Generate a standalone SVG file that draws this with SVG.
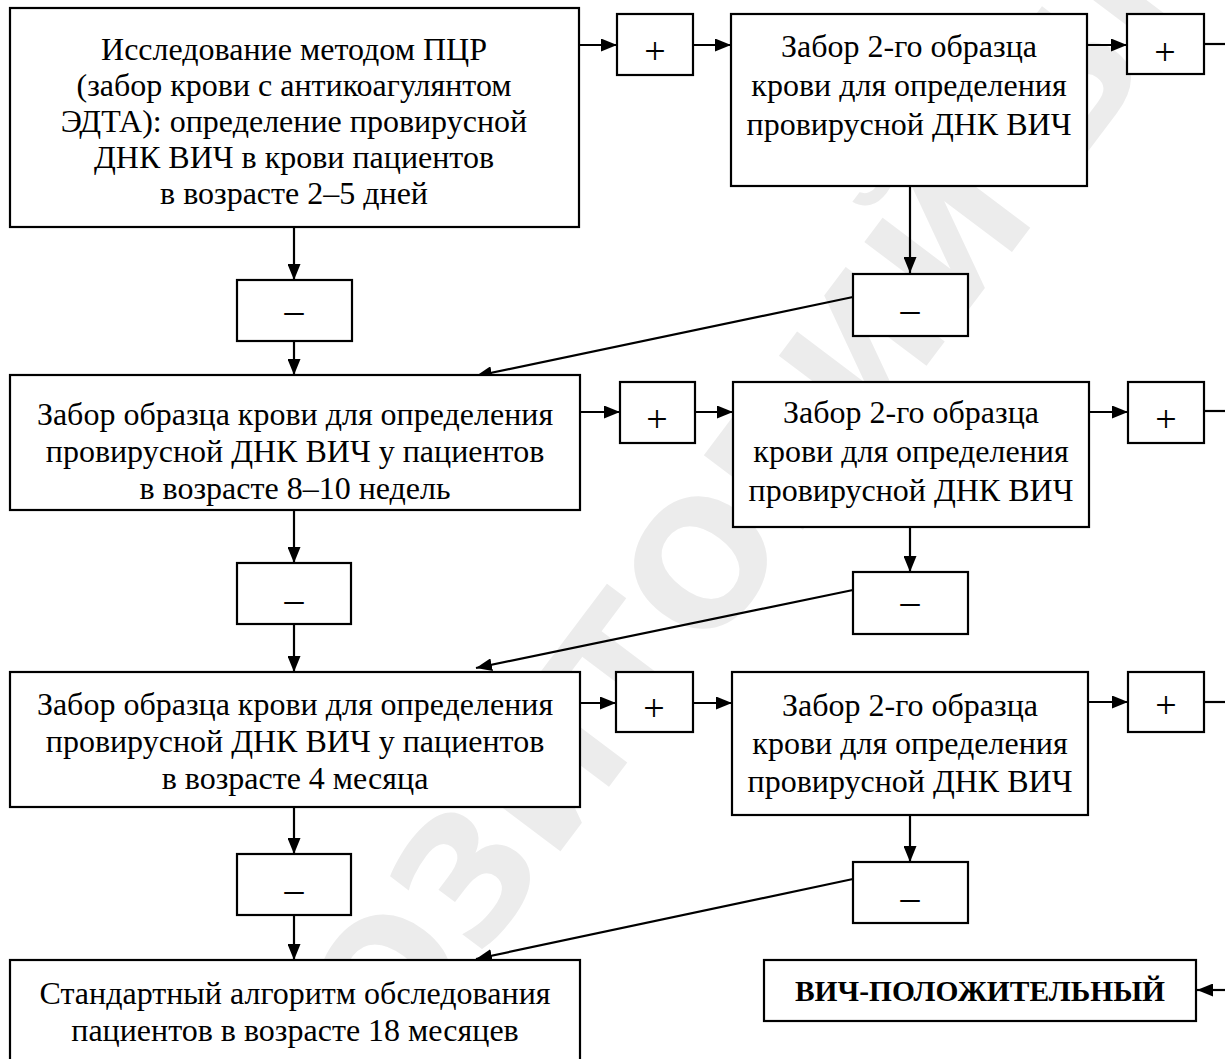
<svg xmlns="http://www.w3.org/2000/svg" width="1225" height="1059" viewBox="0 0 1225 1059">
<defs>
<marker id="ah" viewBox="0 0 16 13" refX="16" refY="6.5" markerWidth="16" markerHeight="13" markerUnits="userSpaceOnUse" orient="auto">
<path d="M0,0 L16,6.5 L0,13 Z" fill="#000"/>
</marker>
</defs>
<style>
.box{fill:#fff;stroke:#000;stroke-width:2.2}
.t{font-family:"Liberation Serif","Times New Roman",serif;font-size:32px;fill:#000;text-anchor:middle}
.s{font-size:38px}
.b{font-weight:bold;font-size:29.5px}
.c{fill:none;stroke:#000;stroke-width:2.2}
.ca{fill:none;stroke:#000;stroke-width:2.2;marker-end:url(#ah)}
</style>
<rect width="1225" height="1059" fill="#fff"/>
<g id="watermark">
<text x="0" y="0" transform="translate(780,560) rotate(-53)" font-family="'DejaVu Sans',sans-serif" font-weight="bold" font-size="170" fill="#ececec" text-anchor="middle">РЕПОЗИТОРИЙ БГМУ</text>
</g>
<g id="connectors">
<line class="ca" x1="580" y1="45" x2="617" y2="45"/>
<line class="ca" x1="693" y1="45" x2="731" y2="45"/>
<line class="ca" x1="1087" y1="45" x2="1127" y2="45"/>
<line class="c" x1="1204" y1="44" x2="1225" y2="44"/>
<line class="ca" x1="294" y1="227" x2="294" y2="280"/>
<line class="ca" x1="294" y1="341" x2="294" y2="375"/>
<line class="ca" x1="910" y1="186" x2="910" y2="273"/>
<line class="ca" x1="853" y1="297" x2="476" y2="376"/>
<line class="ca" x1="580" y1="412" x2="620" y2="412"/>
<line class="ca" x1="695" y1="412" x2="733" y2="412"/>
<line class="ca" x1="1089" y1="412" x2="1128" y2="412"/>
<line class="c" x1="1204" y1="411" x2="1225" y2="411"/>
<line class="ca" x1="294" y1="510" x2="294" y2="563"/>
<line class="ca" x1="294" y1="624" x2="294" y2="672"/>
<line class="ca" x1="910" y1="527" x2="910" y2="572"/>
<line class="ca" x1="853" y1="590" x2="476" y2="668"/>
<line class="ca" x1="580" y1="703" x2="616" y2="703"/>
<line class="ca" x1="693" y1="703" x2="732" y2="703"/>
<line class="ca" x1="1088" y1="702" x2="1128" y2="702"/>
<line class="c" x1="1204" y1="702" x2="1225" y2="702"/>
<line class="ca" x1="294" y1="807" x2="294" y2="854"/>
<line class="ca" x1="294" y1="915" x2="294" y2="960"/>
<line class="ca" x1="910" y1="815" x2="910" y2="862"/>
<line class="ca" x1="853" y1="879" x2="476" y2="959"/>
<line class="ca" x1="1225" y1="990" x2="1197" y2="990"/>
</g>
<g id="n1"><rect class="box" x="10" y="8" width="569" height="219"/>
<text class="t" x="294" y="60">Исследование методом ПЦР</text>
<text class="t" x="294" y="96">(забор крови с антикоагулянтом</text>
<text class="t" x="294" y="132">ЭДТА): определение провирусной</text>
<text class="t" x="294" y="168">ДНК ВИЧ в крови пациентов</text>
<text class="t" x="294" y="204">в возрасте 2–5 дней</text></g>
<g id="p1"><rect class="box" x="617" y="14" width="76" height="61"/><text class="t s" x="655" y="64">+</text></g>
<g id="n2"><rect class="box" x="731" y="14" width="356" height="172"/>
<text class="t" x="909" y="57">Забор 2-го образца</text>
<text class="t" x="909" y="96">крови для определения</text>
<text class="t" x="909" y="135">провирусной ДНК ВИЧ</text></g>
<g id="p2"><rect class="box" x="1127" y="14" width="77" height="60"/><text class="t s" x="1165" y="65">+</text></g>
<g id="m1"><rect class="box" x="237" y="280" width="115" height="61"/><text class="t s" x="294" y="323">–</text></g>
<g id="m2"><rect class="box" x="853" y="274" width="115" height="62"/><text class="t s" x="910" y="322">–</text></g>
<g id="n3"><rect class="box" x="10" y="375" width="570" height="135"/>
<text class="t" x="295" y="425">Забор образца крови для определения</text>
<text class="t" x="295" y="462">провирусной ДНК ВИЧ у пациентов</text>
<text class="t" x="295" y="499">в возрасте 8–10 недель</text></g>
<g id="p3"><rect class="box" x="620" y="382" width="75" height="61"/><text class="t s" x="657" y="432">+</text></g>
<g id="n4"><rect class="box" x="733" y="382" width="356" height="145"/>
<text class="t" x="911" y="423">Забор 2-го образца</text>
<text class="t" x="911" y="462">крови для определения</text>
<text class="t" x="911" y="501">провирусной ДНК ВИЧ</text></g>
<g id="p4"><rect class="box" x="1128" y="382" width="76" height="61"/><text class="t s" x="1166" y="432">+</text></g>
<g id="m3"><rect class="box" x="237" y="563" width="114" height="61"/><text class="t s" x="294" y="612">–</text></g>
<g id="m4"><rect class="box" x="853" y="572" width="115" height="62"/><text class="t s" x="910" y="614">–</text></g>
<g id="n5"><rect class="box" x="10" y="672" width="570" height="135"/>
<text class="t" x="295" y="715">Забор образца крови для определения</text>
<text class="t" x="295" y="752">провирусной ДНК ВИЧ у пациентов</text>
<text class="t" x="295" y="789">в возрасте 4 месяца</text></g>
<g id="p5"><rect class="box" x="616" y="672" width="77" height="60"/><text class="t s" x="654" y="721">+</text></g>
<g id="n6"><rect class="box" x="732" y="672" width="356" height="143"/>
<text class="t" x="910" y="716">Забор 2-го образца</text>
<text class="t" x="910" y="754">крови для определения</text>
<text class="t" x="910" y="792">провирусной ДНК ВИЧ</text></g>
<g id="p6"><rect class="box" x="1128" y="672" width="76" height="60"/><text class="t s" x="1166" y="718">+</text></g>
<g id="m5"><rect class="box" x="237" y="854" width="114" height="61"/><text class="t s" x="294" y="902">–</text></g>
<g id="m6"><rect class="box" x="853" y="862" width="115" height="61"/><text class="t s" x="910" y="910">–</text></g>
<g id="n7"><rect class="box" x="10" y="960" width="570" height="110"/>
<text class="t" x="295" y="1004">Стандартный алгоритм обследования</text>
<text class="t" x="295" y="1041">пациентов в возрасте 18 месяцев</text></g>
<g id="n8"><rect class="box" x="764" y="960" width="432" height="61"/>
<text class="t b" x="980" y="1001">ВИЧ-ПОЛОЖИТЕЛЬНЫЙ</text></g>
</svg>
